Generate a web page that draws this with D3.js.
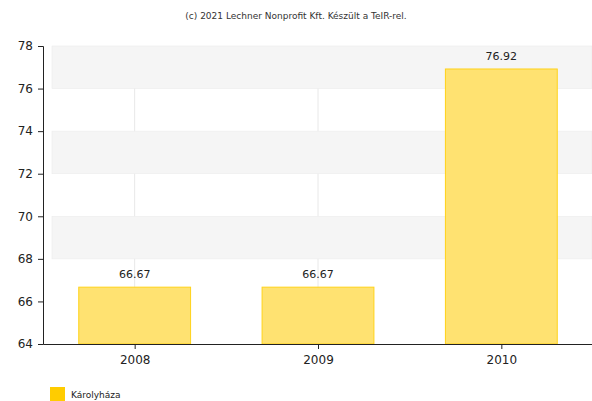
<!DOCTYPE html>
<html><head><meta charset="utf-8">
<script src="https://cdn.jsdelivr.net/npm/d3@7"></script>
<style>body{margin:0;background:#fff}svg{display:block}text{font-family:"DejaVu Sans",Verdana,sans-serif}</style>
</head><body>
<script>
const categories = ["2008", "2009", "2010"];
const values = [66.67, 66.67, 76.92];
const seriesName = "Károlyháza";
const yTicks = [64, 66, 68, 70, 72, 74, 76, 78];
const bandRanges = [[68, 70], [72, 74], [76, 78]];
const title = "(c) 2021 Lechner Nonprofit Kft. Készült a TeIR-rel.";

const W = 592, H = 401;
const m = {left: 43, right: -1, top: 46, bottom: 57};
const svg = d3.select("body").append("svg").attr("width", W).attr("height", H);
const x = d3.scaleBand().domain(categories).range([m.left, W - m.right]).paddingInner(0.39).paddingOuter(0.195);
const xc = d3.scalePoint().domain(categories).range([m.left, W - m.right]).padding(0.5);
const y = d3.scaleLinear().domain([64, 78]).range([H - m.bottom, m.top]);

svg.append("text").attr("x", 296).attr("y", 19).attr("text-anchor", "middle")
  .attr("font-size", 9).attr("fill", "#333").text(title);

// vertical grid
svg.append("g").selectAll("line").data(categories).join("line")
  .attr("x1", d => xc(d)).attr("x2", d => xc(d))
  .attr("y1", m.top).attr("y2", H - m.bottom)
  .attr("stroke", "#e8e8e8");

// bands
svg.append("g").selectAll("rect").data(bandRanges).join("rect")
  .attr("x", m.left + 9).attr("width", W - m.left - 9)
  .attr("y", d => y(d[1])).attr("height", d => y(d[0]) - y(d[1]))
  .attr("fill", "#f5f5f5").attr("stroke", "#ececec").attr("stroke-width", 0.6);

// bars
svg.append("g").selectAll("rect").data(values).join("rect")
  .attr("x", (d, i) => x(categories[i])).attr("width", x.bandwidth())
  .attr("y", d => y(d)).attr("height", d => y(64) - y(d))
  .attr("fill", "#ffe271").attr("stroke", "#ffd21a").attr("stroke-width", 1);

// labels
svg.append("g").selectAll("text").data(values).join("text")
  .attr("x", (d, i) => xc(categories[i])).attr("y", d => y(d) - 9)
  .attr("text-anchor", "middle").attr("font-size", 11).attr("fill", "#222")
  .text(d => d.toFixed(2));

// axes
const ya = svg.append("g").attr("transform", `translate(${m.left},0)`)
  .call(d3.axisLeft(y).tickValues(yTicks).tickSize(5).tickPadding(5).tickFormat(d3.format("d")));
const xa = svg.append("g").attr("transform", `translate(0,${H - m.bottom})`)
  .call(d3.axisBottom(xc).tickSize(5).tickPadding(6).tickSizeOuter(0));
[ya, xa].forEach(g => {
  g.selectAll("path,line").attr("stroke", "#222");
  g.selectAll("text").attr("font-size", 12).attr("fill", "#222").attr("font-family", "DejaVu Sans, sans-serif");
});

// legend
svg.append("rect").attr("x", 50).attr("y", 387).attr("width", 15).attr("height", 14).attr("fill", "#ffcc00");
svg.append("text").attr("x", 71).attr("y", 398).attr("font-size", 9).attr("fill", "#222").text(seriesName);
</script>
</body></html>
